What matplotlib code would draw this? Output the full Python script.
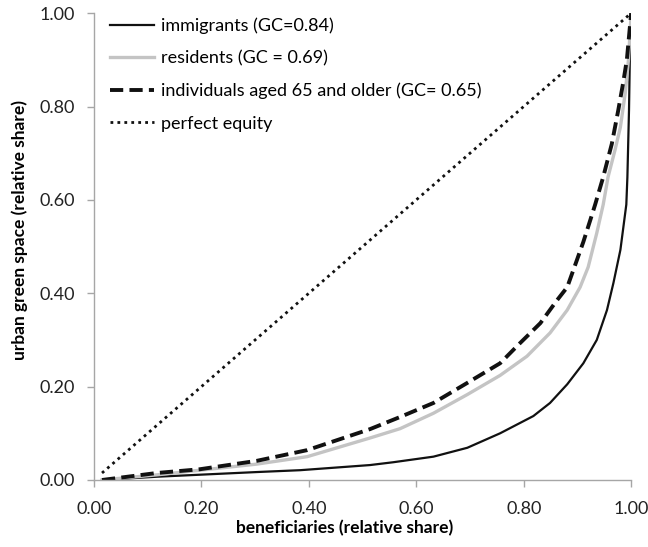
import matplotlib.pyplot as plt

plt.rcParams['font.family'] = ['Lato', 'DejaVu Sans']

# Lorenz curves
immigrants_x = [0.015, 0.117, 0.303, 0.384, 0.514, 0.557, 0.632, 0.695, 0.756,
                0.818, 0.849, 0.881, 0.911, 0.936, 0.955, 0.967, 0.98, 0.991,
                0.993, 0.996, 0.998, 1.0]
immigrants_y = [0.0, 0.007, 0.017, 0.021, 0.032, 0.038, 0.05, 0.069, 0.10,
                0.137, 0.165, 0.205, 0.25, 0.30, 0.364, 0.422, 0.493, 0.59,
                0.649, 0.792, 0.936, 1.0]

residents_x = [0.015, 0.117, 0.303, 0.397, 0.514, 0.57, 0.632, 0.695, 0.756,
               0.806, 0.849, 0.881, 0.905, 0.92, 0.936, 0.948, 0.957, 0.97,
               0.98, 0.989, 0.995, 1.0]
residents_y = [0.0, 0.011, 0.034, 0.05, 0.09, 0.11, 0.143, 0.183, 0.224,
               0.265, 0.315, 0.364, 0.413, 0.456, 0.529, 0.59, 0.649, 0.707,
               0.756, 0.829, 0.9, 1.0]

elderly_x = [0.015, 0.117, 0.197, 0.303, 0.397, 0.514, 0.57, 0.632, 0.695,
             0.756, 0.793, 0.831, 0.862, 0.881, 0.899, 0.911, 0.924, 0.933,
             0.948, 0.964, 0.976, 0.985, 0.992, 1.0]
elderly_y = [0.0, 0.015, 0.023, 0.041, 0.064, 0.109, 0.135, 0.165, 0.208,
             0.25, 0.293, 0.336, 0.385, 0.413, 0.471, 0.51, 0.557, 0.59,
             0.649, 0.72, 0.792, 0.85, 0.9, 1.0]

equity_x = [0.015, 1.0]
equity_y = [0.015, 1.0]

ticks = [0.0, 0.2, 0.4, 0.6, 0.8, 1.0]
tick_labels = ['0.00', '0.20', '0.40', '0.60', '0.80', '1.00']

fig = plt.figure(figsize=(6.48, 5.47), dpi=100)
ax = fig.add_axes([0.145, 0.1225, 0.829, 0.8535])

ax.plot(immigrants_x, immigrants_y, color='#111111', lw=1.6,
        label='immigrants (GC=0.84)')
ax.plot(residents_x, residents_y, color='#c4c4c4', lw=2.4,
        label='residents (GC = 0.69)')
ax.plot(elderly_x, elderly_y, color='#111111', lw=2.8,
        dashes=(3.4, 1.6), label='individuals aged 65 and older (GC= 0.65)')
ax.plot(equity_x, equity_y, color='#111111', lw=2.0,
        dashes=(1, 1.5), label='perfect equity')

ax.set_xlim(0, 1)
ax.set_ylim(0, 1)
ax.set_xticks(ticks)
ax.set_xticklabels(tick_labels)
ax.set_yticks(ticks)
ax.set_yticklabels(tick_labels)

for side in ['top', 'right']:
    ax.spines[side].set_visible(False)
for side in ['left', 'bottom']:
    ax.spines[side].set_color('#a6a6a6')
    ax.spines[side].set_linewidth(1.0)
ax.tick_params(direction='out', length=5, width=1.0, color='#a6a6a6',
               labelsize=13, labelcolor='#222222')
ax.tick_params(axis='x', pad=10)
ax.tick_params(axis='y', pad=9)

# axis titles sit a little off-centre, as in the original
ax.set_xlabel('beneficiaries (relative share)', fontsize=12.5,
              fontweight='bold')
ax.xaxis.set_label_coords(0.466, -0.085)
ax.set_ylabel('urban green space (relative share)', fontsize=12.5,
              fontweight='bold')
ax.yaxis.set_label_coords(-0.123, 0.535)

ax.legend(loc='upper left', bbox_to_anchor=(0.0, 1.025), frameon=False,
          fontsize=13, labelspacing=0.9, handlelength=2.4,
          handletextpad=0.4)

fig.savefig('out.png', dpi=100)
